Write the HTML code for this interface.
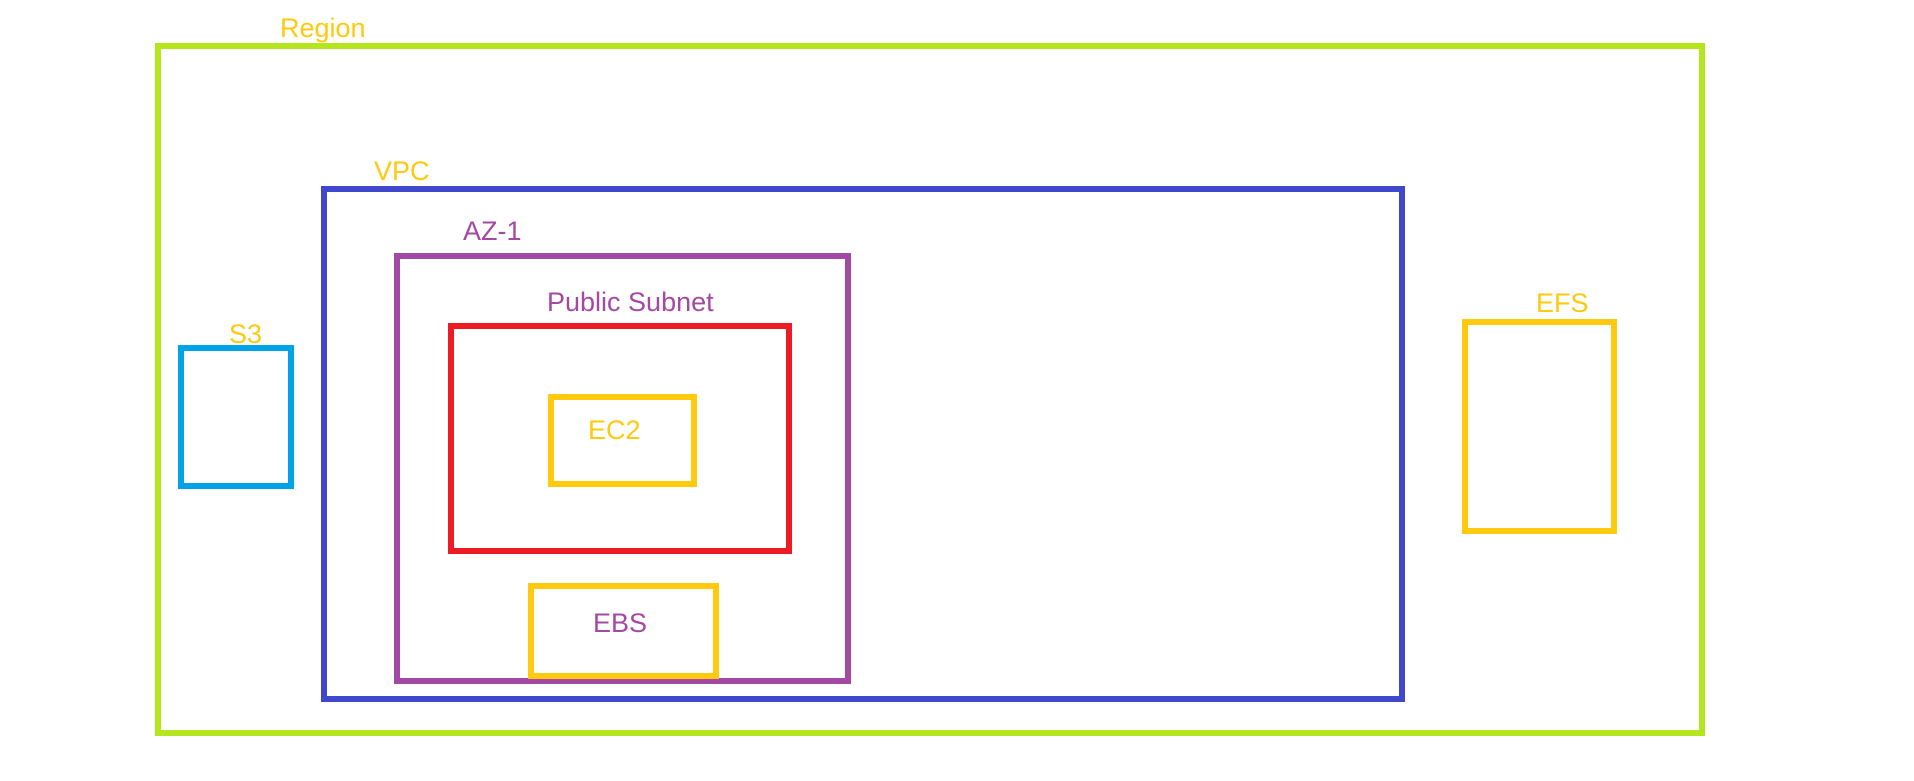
<!DOCTYPE html>
<html><head><meta charset="utf-8"><style>
html,body{margin:0;padding:0;background:#fff;}
svg{display:block;}
text{font-family:"Liberation Sans",Arial,sans-serif;font-size:27px;}
</style></head><body>
<svg width="1914" height="781" viewBox="0 0 1914 781" xmlns="http://www.w3.org/2000/svg">
<g fill="none" stroke-width="6">
<rect x="158" y="46" width="1544" height="687" stroke="#b5e61d"/>
<rect x="324" y="189" width="1078" height="510" stroke="#3f48cc"/>
<rect x="397" y="256" width="451" height="425" stroke="#a349a4"/>
<rect x="451" y="326" width="338" height="225" stroke="#ed1c24"/>
<rect x="551" y="397" width="143" height="87" stroke="#ffc90e"/>
<rect x="531" y="586" width="185" height="90" stroke="#ffc90e"/>
<rect x="181" y="348" width="110" height="138" stroke="#00a2e8"/>
<rect x="1465" y="322" width="149" height="209" stroke="#ffc90e"/>
</g>
<text x="280" y="37" fill="#ffc90e">Region</text>
<text x="374" y="180" fill="#ffc90e">VPC</text>
<text x="463" y="240" fill="#a349a4">AZ-1</text>
<text x="547" y="311" fill="#a349a4">Public Subnet</text>
<text x="229" y="343" fill="#ffc90e">S3</text>
<text x="588" y="439" fill="#ffc90e">EC2</text>
<text x="593" y="632" fill="#a349a4">EBS</text>
<text x="1536" y="312" fill="#ffc90e">EFS</text>
</svg>
</body></html>
